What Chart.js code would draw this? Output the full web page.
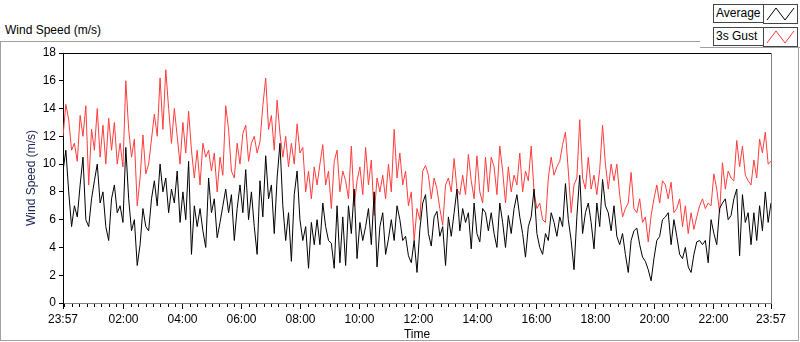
<!DOCTYPE html>
<html>
<head>
<meta charset="utf-8">
<script src="https://cdn.jsdelivr.net/npm/chart.js@4/dist/chart.umd.min.js"></script>
<style>
  body { margin: 0; background: #fff; font-family: "Liberation Sans", Arial, sans-serif; }
  #wrap { position: relative; width: 800px; height: 342px; overflow: hidden; }
  #chart { position: absolute; left: 0; top: 0; }
  .title { position: absolute; left: 5px; top: 23px; font-size: 12px; color: #000; }
  .frame { position: absolute; left: 0; top: 41px; width: 797px; height: 298px; border: 1px solid #a0a0a0; }
  .legpanel { position: absolute; left: 700px; top: 0; width: 100px; height: 47px; background: #fff;
              border-bottom: 1px solid #a0a0a0; }
  .lab { position: absolute; left: 713px; width: 47px; height: 17px; border: 1px solid #444;
         font-size: 12px; line-height: 17px; padding-left: 2px; box-sizing: content-box; }
  .ico { position: absolute; left: 763px; width: 33px; height: 18px; border: 1px solid #444; }
</style>
</head>
<body>
<div id="wrap">
  <div class="frame"></div>
  <div class="title">Wind Speed (m/s)</div>
  <canvas id="chart" width="800" height="342"></canvas>
  <div class="legpanel"></div>
  <div class="lab" style="top:4px">Average</div>
  <div class="ico" style="top:4px"><svg width="33" height="18"><polyline points="3,15 12,3 21,15 30,3" fill="none" stroke="#000" stroke-width="1"/></svg></div>
  <div class="lab" style="top:27px">3s Gust</div>
  <div class="ico" style="top:27px"><svg width="33" height="18"><polyline points="3,15 12,3 21,15 30,3" fill="none" stroke="#ff3c3c" stroke-width="1"/></svg></div>
</div>
<script>
// minutes after 23:57 for the labelled ticks
const tickMinutes = [0, 123, 243, 363, 483, 603, 723, 843, 963, 1083, 1203, 1323, 1440];
const tickLabels = ['23:57', '02:00', '04:00', '06:00', '08:00', '10:00', '12:00',
                    '14:00', '16:00', '18:00', '20:00', '22:00', '23:57'];

// values, left to right (m/s)
const average = [
  9.5, 11.0, 8.0, 5.5, 7.0, 6.2, 8.5, 10.5, 6.0, 5.5, 7.5, 8.8, 10.0, 7.2, 8.0, 5.5, 4.5, 7.5, 8.5, 6.5, 7.0, 5.8, 11.2, 7.5, 5.2, 6.0, 2.7, 4.2, 6.8, 5.5,
  5.2, 7.5, 8.8, 7.0, 10.0, 8.0, 9.0, 6.5, 8.2, 7.2, 9.5, 5.8, 8.0, 6.0, 10.2, 3.5, 7.0, 5.5, 6.8, 5.2, 4.0, 9.0, 6.5, 7.5, 4.7, 5.8, 7.0, 8.2, 6.5, 7.8,
  4.5, 6.8, 8.5, 6.5, 9.6, 6.0, 8.0, 5.5, 3.5, 8.8, 6.2, 10.6, 7.5, 8.5, 5.0, 9.0, 11.5, 7.0, 4.5, 6.5, 3.0, 7.8, 9.5, 6.0, 4.5, 5.5, 2.5, 5.8, 4.2, 6.0,
  4.2, 7.2, 5.5, 4.5, 4.3, 2.5, 7.0, 2.9, 6.2, 2.7, 7.0, 5.0, 8.2, 3.2, 5.8, 4.5, 5.5, 6.8, 4.2, 8.0, 2.6, 5.5, 6.5, 3.5, 4.6, 6.0, 4.5, 7.0, 6.0, 4.5,
  4.8, 3.4, 2.9, 4.5, 2.2, 5.3, 7.2, 7.8, 5.0, 4.1, 6.2, 6.6, 4.8, 5.5, 2.7, 6.2, 4.8, 6.5, 8.2, 5.2, 6.8, 5.8, 6.5, 3.9, 7.2, 5.0, 4.4, 6.8, 6.5, 5.2,
  6.5, 5.0, 4.0, 7.2, 5.8, 4.0, 6.3, 5.0, 6.8, 7.8, 6.2, 5.0, 3.3, 5.5, 6.2, 8.2, 5.0, 4.0, 3.5, 5.0, 4.5, 6.5, 5.8, 4.8, 6.2, 5.5, 8.6, 6.0, 4.5, 2.4, 6.2, 9.2,
  5.0, 6.5, 7.2, 5.8, 3.9, 7.2, 5.5, 8.9, 7.0, 6.5, 5.2, 7.0, 4.8, 4.2, 5.0, 3.5, 2.2, 4.5, 5.2, 5.4, 4.2, 3.3, 3.0, 2.4, 1.6, 3.2, 4.5, 4.8, 6.0, 6.2, 6.5, 4.2, 6.0,
  4.8, 3.5, 3.2, 4.0, 2.6, 2.2, 3.5, 4.4, 4.5, 4.2, 4.5, 2.9, 6.0, 5.0, 4.2, 6.8, 7.2, 7.5, 6.0, 6.3, 7.5, 8.2, 3.4, 7.8, 5.8, 6.5, 4.2, 6.5, 4.5, 7.0, 5.2, 8.0, 5.8, 7.2
];
const gust = [
  12.0, 14.3, 13.2, 11.0, 11.5, 10.2, 13.5, 12.0, 14.2, 8.5, 12.5, 11.0, 14.0, 10.5, 12.8, 10.0, 13.3, 11.0, 13.0, 10.0, 11.5, 9.8, 16.0, 12.5, 10.5, 11.8, 7.0, 9.0, 12.1, 9.3,
  10.0, 11.8, 13.6, 12.0, 16.2, 12.5, 16.8, 14.0, 11.5, 14.0, 12.0, 10.0, 13.0, 10.8, 13.8, 11.0, 9.0, 11.0, 8.5, 11.5, 10.5, 11.0, 9.5, 10.8, 8.0, 10.5, 9.2, 14.2, 12.5, 9.5,
  9.0, 11.5, 10.0, 12.2, 12.8, 10.2, 11.5, 12.0, 10.8, 11.6, 14.2, 16.2, 12.5, 13.5, 11.0, 14.6, 12.2, 10.5, 12.0, 9.8, 11.5, 10.0, 12.9, 10.8, 11.2, 8.0, 9.5, 7.5, 9.8, 8.5,
  10.0, 11.4, 8.5, 9.5, 6.8, 10.2, 11.0, 8.0, 9.5, 8.8, 7.5, 11.3, 7.0, 8.8, 9.8, 7.8, 11.2, 8.5, 10.3, 6.3, 9.0, 8.0, 9.2, 7.5, 10.0, 8.0, 12.5, 9.0, 10.8, 8.5,
  9.5, 7.0, 8.0, 4.5, 6.8, 6.0, 9.5, 9.9, 9.2, 7.5, 9.0, 8.2, 6.8, 5.6, 8.5, 9.0, 8.0, 10.4, 8.2, 7.8, 9.2, 7.8, 10.7, 8.8, 7.5, 10.6, 8.0, 7.2, 10.5, 8.0,
  10.5, 9.8, 7.8, 11.3, 9.5, 7.2, 9.8, 8.0, 9.2, 8.5, 10.8, 8.0, 9.5, 8.8, 11.3, 8.0, 6.8, 7.2, 6.0, 5.8, 9.0, 10.5, 9.2, 9.8, 10.2, 11.4, 12.3, 9.5, 6.5, 8.5, 9.0, 13.2,
  9.0, 8.2, 10.5, 8.2, 9.2, 7.8, 9.6, 12.8, 10.0, 8.2, 10.0, 8.8, 10.0, 7.8, 6.2, 6.8, 7.2, 9.4, 6.8, 6.5, 7.5, 5.8, 6.2, 4.4, 6.3, 7.5, 8.5, 7.2, 8.8, 8.5, 7.5, 8.7, 6.5,
  6.8, 7.5, 5.5, 7.0, 5.0, 6.5, 5.3, 6.2, 7.0, 7.5, 6.8, 7.2, 7.0, 9.3, 8.2, 6.5, 10.1, 8.2, 9.5, 9.0, 8.8, 11.7, 9.8, 11.3, 9.2, 8.8, 8.5, 10.3, 9.0, 11.8, 10.8, 12.3, 10.0, 10.2
];

// spread the readings evenly over the 24 h span
const toPoints = vals => vals.map((v, i) => ({ x: i * 1440 / (vals.length - 1), y: v }));

// frame of the plot + small minor ticks every 15 min on the time axis
const plotFrame = {
  id: 'plotFrame',
  afterDraw(chart) {
    const { ctx, chartArea: a, scales } = chart;
    ctx.save();
    ctx.lineWidth = 1;
    ctx.strokeStyle = '#000';
    ctx.beginPath();
    ctx.moveTo(a.left, a.top + 0.5); ctx.lineTo(a.right, a.top + 0.5);
    ctx.stroke();
    ctx.strokeStyle = '#808080';
    ctx.beginPath();
    ctx.moveTo(a.right + 0.5, a.top); ctx.lineTo(a.right + 0.5, a.bottom);
    ctx.stroke();
    ctx.strokeStyle = '#000';
    ctx.beginPath();
    for (let m = 3; m < 1440; m += 15) {
      if (tickMinutes.some(t => Math.abs(t - m) < 2)) continue;
      const px = Math.round(scales.x.getPixelForValue(m)) + 0.5;
      ctx.moveTo(px, a.bottom + 1); ctx.lineTo(px, a.bottom + 4);
    }
    ctx.stroke();
    ctx.restore();
  }
};

new Chart(document.getElementById('chart').getContext('2d'), {
  type: 'line',
  data: {
    datasets: [{
      label: 'Average',
      data: toPoints(average),
      borderColor: '#000',
      borderWidth: 1,
      pointRadius: 0
    }, {
      label: '3s Gust',
      data: toPoints(gust),
      borderColor: '#ff3c3c',
      borderWidth: 1,
      pointRadius: 0
    }]
  },
  options: {
    responsive: false,
    animation: false,
    layout: { padding: { left: 0, right: 29, top: 53, bottom: 0 } },
    plugins: { legend: { display: false }, tooltip: { enabled: false } },
    scales: {
      x: {
        type: 'linear', min: 0, max: 1440,
        afterBuildTicks: s => { s.ticks = tickMinutes.map(v => ({ value: v })); },
        afterFit: s => { s.height = 39; },
        ticks: {
          autoSkip: false, maxRotation: 0, padding: 3,
          color: '#000', font: { family: 'Liberation Sans', size: 12 },
          callback: (v, i) => tickLabels[i]
        },
        grid: { drawOnChartArea: false, tickLength: 6, color: '#000' },
        border: { color: '#808080' },
        title: { display: true, text: 'Time', color: '#000', padding: { top: 0, bottom: 0 },
                 font: { family: 'Liberation Sans', size: 12 } }
      },
      y: {
        min: 0, max: 18,
        afterFit: s => { s.width = 63; },
        ticks: { stepSize: 2, padding: 3, color: '#000', font: { family: 'Liberation Sans', size: 12 } },
        grid: { drawOnChartArea: false, tickLength: 4, color: '#000' },
        border: { color: '#000' },
        title: { display: true, text: 'Wind Speed (m/s)', color: '#1c2458', padding: { top: 24, bottom: 0 },
                 font: { family: 'Liberation Sans', size: 12 } }
      }
    }
  },
  plugins: [plotFrame]
});
</script>
</body>
</html>
